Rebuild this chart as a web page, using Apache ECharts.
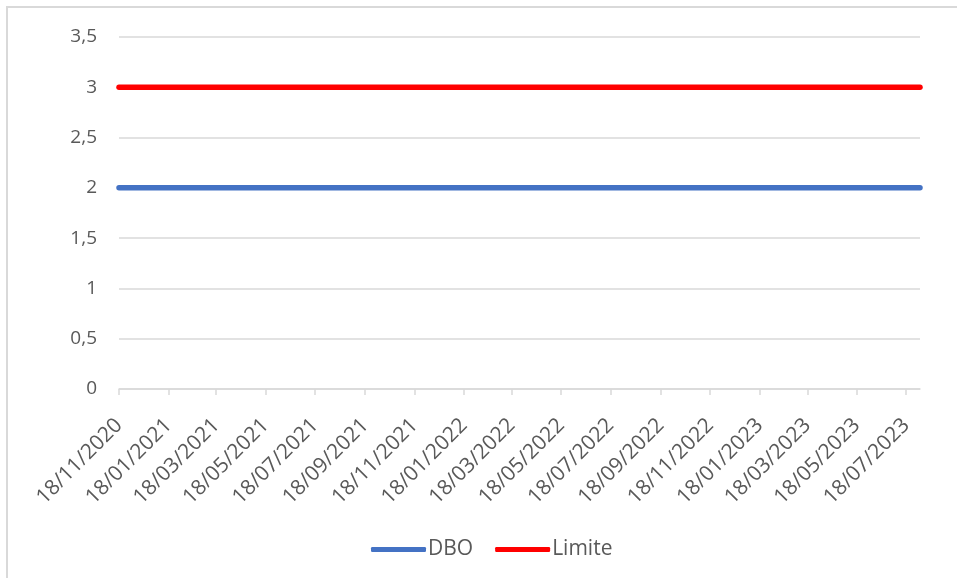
<!DOCTYPE html>
<html>
<head>
<meta charset="utf-8">
<script src="https://cdn.jsdelivr.net/npm/echarts@6/dist/echarts.min.js"></script>
<style>
  html, body { margin: 0; padding: 0; background: #ffffff; }
  #chart { width: 957px; height: 578px; }
</style>
</head>
<body>
<div id="chart"></div>
<script>
// Sampling dates (dd/mm/yyyy) and measured values
const dates = ['18/11/2020', '04/08/2023'];
const dbo = [2, 2];
const limite = [3, 3];

// Tick positions on the date axis, every two months
const tickLabels = [
  '18/11/2020', '18/01/2021', '18/03/2021', '18/05/2021', '18/07/2021',
  '18/09/2021', '18/11/2021', '18/01/2022', '18/03/2022', '18/05/2022',
  '18/07/2022', '18/09/2022', '18/11/2022', '18/01/2023', '18/03/2023',
  '18/05/2023', '18/07/2023'
];
const yTicks = [0, 0.5, 1, 1.5, 2, 2.5, 3, 3.5];

// Dates are handled as whole days (UTC) on a numeric axis
const DAY = 86400000;
function toDay(s) {
  const [d, m, y] = s.split('/').map(Number);
  return Date.UTC(y, m - 1, d) / DAY;
}
function pad(n) { return (n < 10 ? '0' : '') + n; }
function fmtDay(v) {
  const d = new Date(Math.round(v) * DAY);
  return pad(d.getUTCDate()) + '/' + pad(d.getUTCMonth() + 1) + '/' + d.getUTCFullYear();
}

const days = dates.map(toDay);
const tickDays = tickLabels.map(toDay);
const font = '"Open Sans", sans-serif';
const grey = '#d9d9d9';
const textColor = '#595959';

const chart = echarts.init(document.getElementById('chart'), null, { renderer: 'canvas' });
chart.setOption({
  animation: false,
  backgroundColor: '#ffffff',
  graphic: [{
    type: 'rect',
    shape: { x: 7, y: 7, width: 1000, height: 1000 },
    style: { fill: 'none', stroke: grey, lineWidth: 2 },
    silent: true
  }],
  grid: { left: 119, right: 37, top: 37, bottom: 189 },
  legend: {
    left: 366,
    top: 534,
    icon: 'roundRect',
    itemWidth: 55,
    itemHeight: 5,
    itemGap: 22,
    textStyle: { fontFamily: font, fontSize: 21, color: textColor, padding: [0, 0, 0, -3] },
    data: ['DBO', 'Limite']
  },
  xAxis: {
    type: 'value',
    min: days[0],
    max: days[days.length - 1],
    splitLine: { show: false },
    axisLine: { lineStyle: { color: grey, width: 1.5 } },
    axisTick: { show: true, length: 6, lineStyle: { color: grey, width: 1.5 }, customValues: tickDays },
    axisLabel: {
      customValues: tickDays,
      rotate: 45,
      margin: 33,
      fontFamily: font,
      fontSize: 21,
      color: textColor,
      formatter: v => fmtDay(v)
    }
  },
  yAxis: {
    type: 'value',
    min: yTicks[0],
    max: yTicks[yTicks.length - 1],
    interval: 0.5,
    axisLine: { show: false },
    axisTick: { show: false },
    splitLine: { lineStyle: { color: grey, width: 1.5 } },
    axisLabel: {
      margin: 22,
      fontFamily: font,
      fontSize: 19,
      color: textColor,
      formatter: v => String(v).replace('.', ',')
    }
  },
  series: [
    {
      name: 'DBO',
      type: 'line',
      data: days.map((t, i) => [t, dbo[i]]),
      symbol: 'none',
      lineStyle: { color: '#4472c4', width: 5.5, cap: 'round' },
      itemStyle: { color: '#4472c4' },
      z: 3
    },
    {
      name: 'Limite',
      type: 'line',
      data: days.map((t, i) => [t, limite[i]]),
      symbol: 'none',
      lineStyle: { color: '#ff0000', width: 5.5, cap: 'round' },
      itemStyle: { color: '#ff0000' },
      z: 3
    }
  ]
});
</script>
</body>
</html>
